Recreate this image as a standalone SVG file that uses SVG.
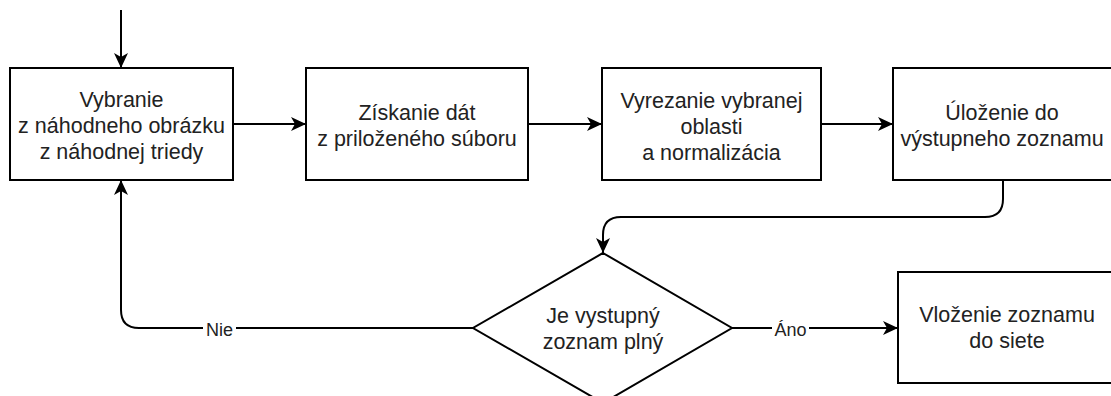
<svg xmlns="http://www.w3.org/2000/svg" width="1111" height="396" viewBox="0 0 1111 396">
<style>
.box{fill:#fff;stroke:#000;stroke-width:2}
.t{font-family:"Liberation Sans",Arial,sans-serif;font-size:21.5px;fill:#222;text-anchor:middle}
.c{fill:none;stroke:#000;stroke-width:2;marker-end:url(#ah)}
.lbl{fill:#fff}
</style>
<defs>
<marker id="ah" markerUnits="userSpaceOnUse" markerWidth="16" markerHeight="14" refX="15" refY="7" orient="auto">
<path d="M0,0 L15,7 L0,14 L4,7 Z" fill="#000"/>
</marker>
</defs>
<g id="connectors">
<path class="c" d="M121,10 V68"/>
<path class="c" d="M233,124 H306"/>
<path class="c" d="M528,124 H602"/>
<path class="c" d="M821,124 H893"/>
<path class="c" d="M1003,180 V199 Q1003,217 985,217 H621 Q603,217 603,235 V253"/>
<path class="c" d="M473,328 H139 Q121,328 121,310 V180"/>
<path class="c" d="M732,328 H898"/>
<rect class="lbl" x="203" y="318" width="33" height="20"/>
<text class="t" x="219.5" y="335.5" style="font-size:18px">Nie</text>
<rect class="lbl" x="772" y="318" width="37" height="20"/>
<text class="t" x="790.5" y="335.5" style="font-size:18px">Áno</text>
</g>
<g id="n1">
<rect class="box" x="10" y="68" width="223" height="112"/>
<text class="t" x="121.5" y="107">Vybranie</text>
<text class="t" x="121.5" y="133">z náhodneho obrázku</text>
<text class="t" x="121.5" y="159">z náhodnej triedy</text>
</g>
<g id="n2">
<rect class="box" x="306" y="68" width="222" height="112"/>
<text class="t" x="417" y="120">Získanie dát</text>
<text class="t" x="417" y="146">z priloženého súboru</text>
</g>
<g id="n3">
<rect class="box" x="602" y="68" width="219" height="112"/>
<text class="t" x="711.5" y="108">Vyrezanie vybranej</text>
<text class="t" x="711.5" y="134">oblasti</text>
<text class="t" x="711.5" y="160">a normalizácia</text>
</g>
<g id="n4">
<rect class="box" x="893" y="68" width="222" height="112"/>
<text class="t" x="1002" y="120">Úloženie do</text>
<text class="t" x="1002" y="146">výstupneho zoznamu</text>
</g>
<g id="n5">
<polygon class="box" points="603,253 732,328 603,403 473,328"/>
<text class="t" x="603" y="322.5">Je vystupný</text>
<text class="t" x="603" y="348.5">zoznam plný</text>
</g>
<g id="n6">
<rect class="box" x="898" y="272" width="222" height="111"/>
<text class="t" x="1007" y="322">Vloženie zoznamu</text>
<text class="t" x="1007" y="348">do siete</text>
</g>
</svg>
